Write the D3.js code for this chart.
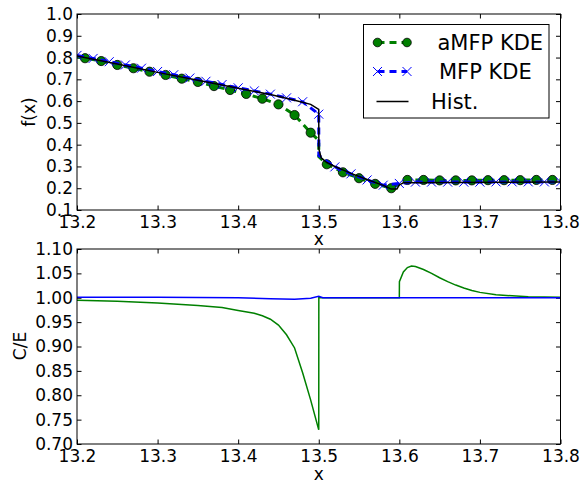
<!DOCTYPE html>
<html lang="en">
  <head>
    <meta charset="UTF-8" />
    <title>f(x) et C/E</title>
    <script src="https://d3js.org/d3.v7.min.js"></script>
    <style>
      body {
        margin: 0;
        background-color: #fff;
        font-family: "DejaVu Sans", sans-serif;
      }
      .tick text {
        font-size: 17px;
        fill: #000;
      }
      .label {
        font-size: 17px;
      }
      .legend-text {
        font-size: 21px;
      }
    </style>
  </head>
  <body>
    <svg id="chart" width="581" height="485"></svg>
    <script>
      // ticks
      const xTicks = [13.2, 13.3, 13.4, 13.5, 13.6, 13.7, 13.8];
      const fTicks = [0.1, 0.2, 0.3, 0.4, 0.5, 0.6, 0.7, 0.8, 0.9, 1.0];
      const ceTicks = [0.7, 0.75, 0.8, 0.85, 0.9, 0.95, 1.0, 1.05, 1.1];

      // haut : aMFP KDE (marqueurs)
      const amfpX = [13.21, 13.23, 13.25, 13.27, 13.29, 13.31, 13.33, 13.35, 13.37, 13.39,
        13.41, 13.43, 13.45, 13.47, 13.49, 13.51, 13.53, 13.55, 13.57, 13.59,
        13.61, 13.63, 13.65, 13.67, 13.69, 13.71, 13.73, 13.75, 13.77, 13.79];
      const amfpY = [0.797, 0.784, 0.766, 0.751, 0.735, 0.72, 0.703, 0.688, 0.669, 0.651,
        0.633, 0.611, 0.585, 0.536, 0.455, 0.31, 0.273, 0.246, 0.22, 0.2,
        0.238, 0.238, 0.236, 0.236, 0.236, 0.237, 0.237, 0.237, 0.238, 0.238];
      // points en plus de la courbe (bords et saut en 13.5)
      const amfpExtraX = [13.2, 13.5, 13.5, 13.8];
      const amfpExtraY = [0.803, 0.42, 0.345, 0.238];

      // haut : MFP KDE
      const mfpX = [13.2, 13.22, 13.24, 13.26, 13.28, 13.3, 13.32, 13.34, 13.36, 13.38,
        13.4, 13.42, 13.44, 13.46, 13.48, 13.5, 13.52, 13.54, 13.56, 13.58,
        13.6, 13.62, 13.64, 13.66, 13.68, 13.7, 13.72, 13.74, 13.76, 13.78, 13.8];
      const mfpY = [0.81, 0.796, 0.781, 0.766, 0.751, 0.736, 0.721, 0.706, 0.691, 0.676,
        0.661, 0.647, 0.632, 0.615, 0.597, 0.54, 0.298, 0.266, 0.238, 0.214,
        0.222, 0.228, 0.228, 0.228, 0.228, 0.228, 0.229, 0.229, 0.229, 0.229, 0.229];
      const mfpExtraX = [13.5001];
      const mfpExtraY = [0.35];

      // haut : histogramme
      const histX = [13.2, 13.25, 13.3, 13.35, 13.4, 13.44, 13.47, 13.49, 13.5, 13.5001,
        13.503, 13.51, 13.52, 13.54, 13.56, 13.58, 13.59, 13.597, 13.6, 13.605, 13.8];
      const histY = [0.807, 0.77, 0.732, 0.696, 0.659, 0.63, 0.604, 0.585, 0.562, 0.38,
        0.34, 0.318, 0.3, 0.268, 0.24, 0.213, 0.196, 0.196, 0.215, 0.225, 0.228];

      // bas : C/E aMFP
      const ceAmfpX = [13.2, 13.25, 13.3, 13.35, 13.38, 13.4, 13.42, 13.43, 13.44, 13.45,
        13.46, 13.47, 13.48, 13.49, 13.5, 13.5001, 13.6, 13.6001, 13.605, 13.61,
        13.615, 13.62, 13.63, 13.64, 13.65, 13.66, 13.67, 13.68, 13.69, 13.7,
        13.72, 13.74, 13.76, 13.8];
      const ceAmfpY = [0.995, 0.993, 0.989, 0.984, 0.98, 0.974, 0.968, 0.963, 0.956, 0.944,
        0.924, 0.897, 0.846, 0.79, 0.729, 1.0, 1.0, 1.033, 1.053, 1.062,
        1.065, 1.064, 1.058, 1.05, 1.041, 1.033, 1.026, 1.02, 1.015, 1.011,
        1.006, 1.004, 1.002, 1.001];

      // bas : C/E MFP
      const ceMfpX = [13.2, 13.3, 13.4, 13.44, 13.47, 13.49, 13.5, 13.505, 13.6, 13.7, 13.8];
      const ceMfpY = [1.001, 1.001, 1.0, 0.998, 0.997, 0.999, 1.003, 1.0, 1.0, 1.0, 1.0];

      const green = "#008000";
      const blue = "#0000ff";

      const svg = d3.select("#chart");
      svg.append("rect").attr("width", 581).attr("height", 485).attr("fill", "#fff");

      const left = 77, right = 560.5;
      const x = d3.scaleLinear().domain([13.2, 13.8]).range([left, right]);
      const yTop = d3.scaleLinear().domain([0.1, 1.0]).range([210, 14]);
      const yBot = d3.scaleLinear().domain([0.7, 1.1]).range([444, 249]);

      const zip = (xs, ys) => xs.map((v, i) => [v, ys[i]]);
      const merge = (a, b) => a.concat(b).sort((p, q) => p[0] - q[0]);

      function panel(y, yt, fmt, id) {
        const g = svg.append("g");
        const [y0, y1] = y.range();
        g.append("clipPath").attr("id", id).append("rect")
          .attr("x", left).attr("y", y1).attr("width", right - left).attr("height", y0 - y1);

        const tk = 4.5;
        g.append("g").attr("transform", `translate(0,${y0})`)
          .call(d3.axisBottom(x).tickValues(xTicks).tickFormat(d3.format(".1f"))
            .tickSizeInner(-tk).tickSizeOuter(0).tickPadding(6));
        g.append("g").attr("transform", `translate(0,${y1})`)
          .call(d3.axisTop(x).tickValues(xTicks).tickFormat("")
            .tickSizeInner(-tk).tickSizeOuter(0));
        g.append("g").attr("transform", `translate(${left},0)`)
          .call(d3.axisLeft(y).tickValues(yt).tickFormat(d3.format(fmt))
            .tickSizeInner(-tk).tickSizeOuter(0).tickPadding(4));
        g.append("g").attr("transform", `translate(${right},0)`)
          .call(d3.axisRight(y).tickValues(yt).tickFormat("")
            .tickSizeInner(-tk).tickSizeOuter(0));
        g.selectAll(".domain").remove();
        g.selectAll(".tick line").attr("stroke", "#000");
        g.selectAll(".tick text").attr("font-family", "DejaVu Sans");

        const plot = g.append("g").attr("clip-path", `url(#${id})`);
        g.append("rect").attr("x", left).attr("y", y1)
          .attr("width", right - left).attr("height", y0 - y1)
          .attr("fill", "none").attr("stroke", "#000").attr("stroke-width", 1);
        return plot;
      }

      // ---- panneau du haut
      const topPlot = panel(yTop, fTicks, ".1f", "clipTop");
      const lineTop = d3.line().x((d) => x(d[0])).y((d) => yTop(d[1]));

      const amfpPts = zip(amfpX, amfpY);
      topPlot.append("path")
        .datum(merge(amfpPts, zip(amfpExtraX, amfpExtraY)))
        .attr("d", lineTop).attr("fill", "none").attr("stroke", green)
        .attr("stroke-width", 3).attr("stroke-dasharray", "7,5");
      topPlot.selectAll(".amfp").data(amfpPts).enter().append("circle")
        .attr("cx", (d) => x(d[0])).attr("cy", (d) => yTop(d[1])).attr("r", 4.6)
        .attr("fill", green).attr("stroke", "#000").attr("stroke-width", 0.8);

      const mfpPts = zip(mfpX, mfpY);
      topPlot.append("path")
        .datum(merge(mfpPts, zip(mfpExtraX, mfpExtraY)))
        .attr("d", lineTop).attr("fill", "none").attr("stroke", blue)
        .attr("stroke-width", 3).attr("stroke-dasharray", "7,5");
      const xMark = (cx, cy, s) =>
        `M${cx - s},${cy - s}L${cx + s},${cy + s}M${cx - s},${cy + s}L${cx + s},${cy - s}`;
      topPlot.selectAll(".mfp").data(mfpPts).enter().append("path")
        .attr("d", (d) => xMark(x(d[0]), yTop(d[1]), 4.5))
        .attr("stroke", blue).attr("stroke-width", 1).attr("fill", "none");

      topPlot.append("path").datum(zip(histX, histY))
        .attr("d", lineTop).attr("fill", "none").attr("stroke", "#000")
        .attr("stroke-width", 1.5);

      // légende
      const lg = svg.append("g");
      lg.append("rect").attr("x", 363.5).attr("y", 24.5).attr("width", 185.5).attr("height", 93.5)
        .attr("fill", "#fff").attr("stroke", "#000").attr("stroke-width", 1);
      const items = [
        { label: "aMFP KDE", y: 42.5, tx: 437.5 },
        { label: "MFP KDE", y: 71.5, tx: 439 },
        { label: "Hist.", y: 101.5, tx: 431 },
      ];
      const l0 = 377.5, l1 = 407;
      lg.append("line").attr("x1", l0).attr("x2", l1).attr("y1", items[0].y).attr("y2", items[0].y)
        .attr("stroke", green).attr("stroke-width", 3).attr("stroke-dasharray", "7,5");
      [l0, l1].forEach((px) =>
        lg.append("circle").attr("cx", px).attr("cy", items[0].y).attr("r", 4.3)
          .attr("fill", green).attr("stroke", "#000").attr("stroke-width", 0.8));
      lg.append("line").attr("x1", l0).attr("x2", l1).attr("y1", items[1].y).attr("y2", items[1].y)
        .attr("stroke", blue).attr("stroke-width", 3).attr("stroke-dasharray", "7,5");
      [l0, l1].forEach((px) =>
        lg.append("path").attr("d", xMark(px, items[1].y, 4.5))
          .attr("stroke", blue).attr("stroke-width", 1).attr("fill", "none"));
      lg.append("line").attr("x1", 376.5).attr("x2", 408.5).attr("y1", items[2].y).attr("y2", items[2].y)
        .attr("stroke", "#000").attr("stroke-width", 1.5);
      lg.selectAll(".legend-text").data(items).enter().append("text")
        .attr("class", "legend-text").attr("x", (d) => d.tx).attr("y", (d) => d.y)
        .attr("dy", "0.36em").text((d) => d.label);

      // ---- panneau du bas
      const botPlot = panel(yBot, ceTicks, ".2f", "clipBot");
      const lineBot = d3.line().x((d) => x(d[0])).y((d) => yBot(d[1]));
      botPlot.append("path").datum(zip(ceAmfpX, ceAmfpY))
        .attr("d", lineBot).attr("fill", "none").attr("stroke", green).attr("stroke-width", 1.5);
      botPlot.append("path").datum(zip(ceMfpX, ceMfpY))
        .attr("d", lineBot).attr("fill", "none").attr("stroke", blue).attr("stroke-width", 1.6);

      // titres des axes
      svg.append("text").attr("class", "label").attr("text-anchor", "middle")
        .attr("transform", "translate(35,112) rotate(-90)").text("f(x)");
      svg.append("text").attr("class", "label").attr("text-anchor", "middle")
        .attr("transform", "translate(26,346) rotate(-90)").text("C/E");
      svg.append("text").attr("class", "label").attr("text-anchor", "middle")
        .attr("x", (left + right) / 2).attr("y", 245).text("x");
      svg.append("text").attr("class", "label").attr("text-anchor", "middle")
        .attr("x", (left + right) / 2).attr("y", 480).text("x");
    </script>
  </body>
</html>
